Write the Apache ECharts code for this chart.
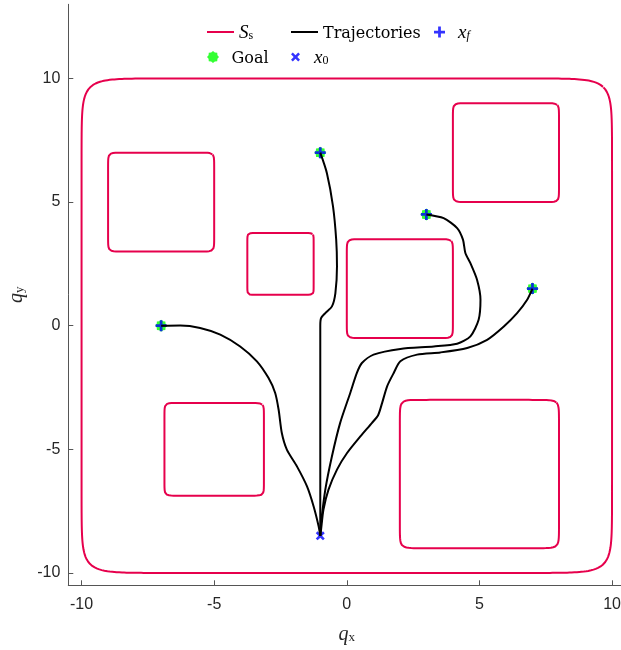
<!DOCTYPE html>
<html>
<head>
<meta charset="utf-8">
<script src="https://cdn.jsdelivr.net/npm/echarts@6/dist/echarts.min.js"></script>
<style>html,body{margin:0;padding:0;background:#fff}#c{width:621px;height:650px}</style>
</head>
<body>
<div id="c"></div>
<script>
// ---- data ----
var xTicks = [-10, -5, 0, 5, 10];
var yTicks = [-10, -5, 0, 5, 10];
// safe-set boundary and obstacles: [xmin, xmax, ymin, ymax]
var safeSet = [-10, 10, -10, 10];
var obstacles = [
  [-9, -5, 3, 7],
  [-3.75, -1.25, 1.25, 3.75],
  [0, 4, -0.5, 3.5],
  [4, 8, 5, 9],
  [-6.875, -3.125, -6.875, -3.125],
  [2, 8, -9, -3]
];
var x0 = [[-1, -8.5]];
var goals = [[-7, 0], [-1, 7], [3, 4.5], [7, 1.5]];
var xf = [[-7, 0], [-1, 7], [3, 4.5], [7, 1.5]];
var traj1 = [[-1,-8.5],[-1.06,-8.12],[-1.25,-7.31],[-1.50,-6.50],[-1.88,-5.69],[-2.26,-5.01],[-2.45,-4.34],[-2.57,-3.40],[-2.70,-2.72],[-2.95,-2.12],[-3.39,-1.44],[-4.02,-0.84],[-4.77,-0.36],[-5.53,-0.09],[-6.28,0.01],[-7,0]];
var traj2 = [[-1,-8.5],[-1,-4],[-1,0.0],[-0.97,0.31],[-0.81,0.51],[-0.56,0.78],[-0.43,1.32],[-0.37,2.40],[-0.40,3.48],[-0.52,4.83],[-0.75,6.17],[-1,7]];
var traj3 = [[-1,-8.5],[-0.97,-7.98],[-0.81,-6.63],[-0.56,-5.28],[-0.25,-3.93],[0.13,-2.72],[0.38,-1.91],[0.57,-1.51],[1.01,-1.17],[2.02,-0.94],[3.28,-0.84],[4.16,-0.73],[4.66,-0.43],[4.97,0.24],[5.04,1.05],[4.91,1.86],[4.66,2.53],[4.47,2.94],[4.38,3.48],[4.16,3.95],[3.65,4.35],[3,4.5]];
var traj4 = [[-1,-8.5],[-0.97,-8.25],[-0.88,-7.44],[-0.69,-6.63],[-0.37,-5.82],[0.01,-5.15],[0.51,-4.48],[0.95,-3.93],[1.18,-3.62],[1.33,-3.13],[1.52,-2.45],[1.77,-1.91],[2.02,-1.44],[2.65,-1.17],[3.53,-1.08],[4.54,-0.90],[5.29,-0.57],[5.92,-0.03],[6.42,0.51],[6.80,1.05],[7,1.5]];

// ---- helpers ----
var RED = '#e6004c';
function outline(b) {
  var cx = (b[0] + b[1]) / 2, cy = (b[2] + b[3]) / 2;
  var a = (b[1] - b[0]) / 2, c = (b[3] - b[2]) / 2;
  var e = 2 / 20, pts = [], N = 720;
  for (var i = 0; i < N; i++) {
    var t = Math.PI / 4 + 2 * Math.PI * i / N;
    var ct = Math.cos(t), st = Math.sin(t);
    pts.push([cx + a * Math.sign(ct) * Math.pow(Math.abs(ct), e),
              cy + c * Math.sign(st) * Math.pow(Math.abs(st), e)]);
  }
  pts.push(pts[0].slice());
  return pts;
}
function starPath() {
  var s = 'path://';
  for (var i = 0; i < 16; i++) {
    var r = (i % 2 === 0) ? 1 : 0.8;
    var t = Math.PI * i / 8;
    s += (i === 0 ? 'M' : 'L') + (r * Math.cos(t)).toFixed(3) + ',' + (r * Math.sin(t)).toFixed(3);
  }
  return s + 'Z';
}
var PLUS = 'path://M-1,-0.25L-0.25,-0.25L-0.25,-1L0.25,-1L0.25,-0.25L1,-0.25L1,0.25L0.25,0.25L0.25,1L-0.25,1L-0.25,0.25L-1,0.25Z';
var CROSS = 'path://M-1,-0.6L-0.6,-1L0,-0.4L0.6,-1L1,-0.6L0.4,0L1,0.6L0.6,1L0,0.4L-0.6,1L-1,0.6L-0.4,0Z';
var STAR = starPath();

var series = [];
[safeSet].concat(obstacles).forEach(function (b) {
  series.push({ name: 'Ss', type: 'line', data: outline(b), symbol: 'none', smooth: false,
    lineStyle: { color: RED, width: 2, join: 'round' }, itemStyle: { color: RED }, silent: true });
});
[traj1, traj2, traj3, traj4].forEach(function (t) {
  series.push({ name: 'Trajectories', type: 'line', data: t, symbol: 'none', smooth: 0.25,
    lineStyle: { color: '#000', width: 2 }, itemStyle: { color: '#000' }, silent: true });
});
series.push({ name: 'Goal', type: 'scatter', data: goals, symbol: STAR, symbolSize: 12, itemStyle: { color: '#00ff00' } });
series.push({ name: 'x0', type: 'scatter', data: x0, symbol: CROSS, symbolSize: 9, itemStyle: { color: '#0000ff' } });
series.push({ name: 'xf', type: 'scatter', data: xf, symbol: PLUS, symbolSize: 11, itemStyle: { color: '#0000ff' } });

var rich = {
  r: { fontFamily: 'DejaVu Serif', fontSize: 16, color: '#000', lineHeight: 20, verticalAlign: 'bottom' },
  m: { fontFamily: 'Liberation Serif', fontStyle: 'italic', fontSize: 19, color: '#000', lineHeight: 20, verticalAlign: 'bottom' },
  s: { fontFamily: 'Liberation Serif', fontSize: 12, color: '#000', lineHeight: 9, verticalAlign: 'bottom' },
  si: { fontFamily: 'Liberation Serif', fontStyle: 'italic', fontSize: 12, color: '#000', lineHeight: 9, verticalAlign: 'bottom' }
};
var labels = {
  'Ss': '{m|S}{s|s}',
  'Trajectories': '{r|Trajectories}',
  'xf': '{m|x}{si|f}',
  'Goal': '{r|Goal}',
  'x0': '{m|x}{s|0}'
};
function leg(name, left, top, ih, icon) {
  var item = { name: name };
  if (icon) item.icon = icon;
  return {
    data: [item], left: left, top: top, padding: 0, itemWidth: 27, itemHeight: ih || 14,
    itemGap: 0, selectedMode: false,
    formatter: function (n) { return labels[n]; },
    textStyle: { rich: rich, lineHeight: 20, padding: [0, 0, 0, 0] }
  };
}

var chart = echarts.init(document.getElementById('c'), null, { renderer: 'canvas' });
chart.setOption({
  animation: false,
  backgroundColor: '#fff',
  legend: [
    leg('Ss', 207, 22, 2, 'rect'),
    leg('Trajectories', 291, 22, 2, 'rect'),
    leg('xf', 434, 22, 11),
    leg('Goal', 207, 47, 12),
    leg('x0', 291, 47, 9)
  ],
  grid: { left: 68.3, top: 4.3, width: 557, height: 581, containLabel: false, outerBoundsMode: 'none' },
  xAxis: {
    type: 'value', min: -10.5, max: 10.5,
    axisLine: { show: true, onZero: false, lineStyle: { color: '#555', width: 1 } },
    axisTick: { show: true, inside: true, length: 5, customValues: xTicks, lineStyle: { color: '#555' } },
    axisLabel: { customValues: xTicks, margin: 11, fontFamily: 'Liberation Sans', fontSize: 16, color: '#262626' },
    splitLine: { show: false },
    name: '{q|q}{s|x}', nameLocation: 'middle', nameGap: 37,
    nameTextStyle: { rich: {
      q: { fontFamily: 'Liberation Serif', fontStyle: 'italic', fontSize: 20, color: '#262626', lineHeight: 22, verticalAlign: 'bottom' },
      s: { fontFamily: 'Liberation Serif', fontSize: 13, color: '#262626', lineHeight: 10, verticalAlign: 'bottom' } } }
  },
  yAxis: {
    type: 'value', min: -10.5, max: 13,
    axisLine: { show: true, onZero: false, lineStyle: { color: '#555', width: 1 } },
    axisTick: { show: true, inside: true, length: 5, customValues: yTicks, lineStyle: { color: '#555' } },
    axisLabel: { customValues: yTicks, margin: 8, fontFamily: 'Liberation Sans', fontSize: 16, color: '#262626' },
    splitLine: { show: false },
    name: '{q|q}{s|y}', nameLocation: 'middle', nameGap: 42,
    nameTextStyle: { rich: {
      q: { fontFamily: 'Liberation Serif', fontStyle: 'italic', fontSize: 20, color: '#262626', lineHeight: 22, verticalAlign: 'bottom' },
      s: { fontFamily: 'Liberation Serif', fontSize: 13, color: '#262626', lineHeight: 10, verticalAlign: 'bottom' } } }
  },
  series: series
});
</script>
</body>
</html>
